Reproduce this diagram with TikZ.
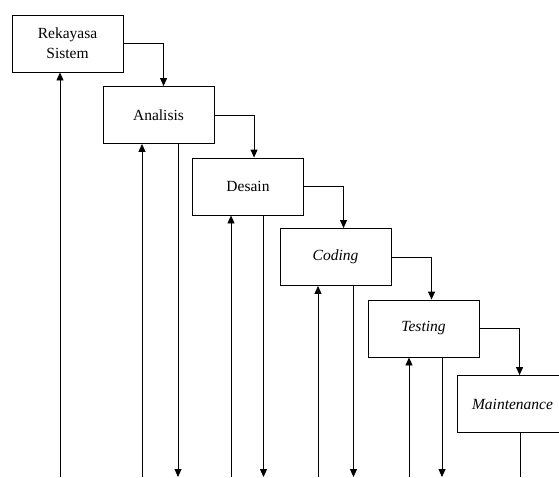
\documentclass[tikz,border=0pt]{standalone}
\usepackage{fontspec}
\setmainfont{Liberation Serif}
\usetikzlibrary{arrows.meta}
\begin{document}
\begin{tikzpicture}[x=1pt,y=-1pt,
  box/.style={draw,line width=0.9pt,rectangle,minimum width=111pt,minimum height=57pt,inner sep=0pt,align=center,font=\fontsize{15.5}{20}\selectfont},
  arr/.style={line width=0.9pt,-{Triangle[length=8pt,width=7pt]}},
  ln/.style={line width=0.9pt}]
\useasboundingbox (0,0) rectangle (559,477);
\clip (0,0) rectangle (559,477);
\node[box] (b1) at (67.5,43.5) {Rekayasa\\Sistem};
\node[box] (b2) at (158.5,115) {Analisis};
\node[box] (b3) at (248,186.5) {Desain};
\node[box] (b4) at (335.5,257) {\itshape Coding};
\node[box] (b5) at (423.5,328.5) {\itshape Testing};
\node[box] (b6) at (512.5,404) {\itshape Maintenance};
% forward arrows
\draw[arr] (b1.east) -| ([xshift=61pt]b2.north west);
\draw[arr] (b2.east) -| ([xshift=62pt]b3.north west);
\draw[arr] (b3.east) -| ([xshift=64pt]b4.north west);
\draw[arr] (b4.east) -| ([xshift=64pt]b5.north west);
\draw[arr] (b5.east) -| ([xshift=63pt]b6.north west);
% bottom ends
\coordinate (u1) at (60,477);
\coordinate (u2) at (142,477);
\coordinate (d2) at (178,477);
\coordinate (u3) at (231,477);
\coordinate (d3) at (263.5,477);
\coordinate (u4) at (318,477);
\coordinate (d4) at (353.5,477);
\coordinate (u5) at (409,477);
\coordinate (d5) at (442,477);
\coordinate (d6) at (520,477);
% up arrows
\draw[arr] (u1) -- (u1 |- b1.south);
\draw[arr] (u2) -- (u2 |- b2.south);
\draw[arr] (u3) -- (u3 |- b3.south);
\draw[arr] (u4) -- (u4 |- b4.south);
\draw[arr] (u5) -- (u5 |- b5.south);
% down arrows
\draw[arr] (d2 |- b2.south) -- (d2);
\draw[arr] (d3 |- b3.south) -- (d3);
\draw[arr] (d4 |- b4.south) -- (d4);
\draw[arr] (d5 |- b5.south) -- (d5);
\draw[ln] (d6 |- b6.south) -- (d6);
\end{tikzpicture}
\end{document}
